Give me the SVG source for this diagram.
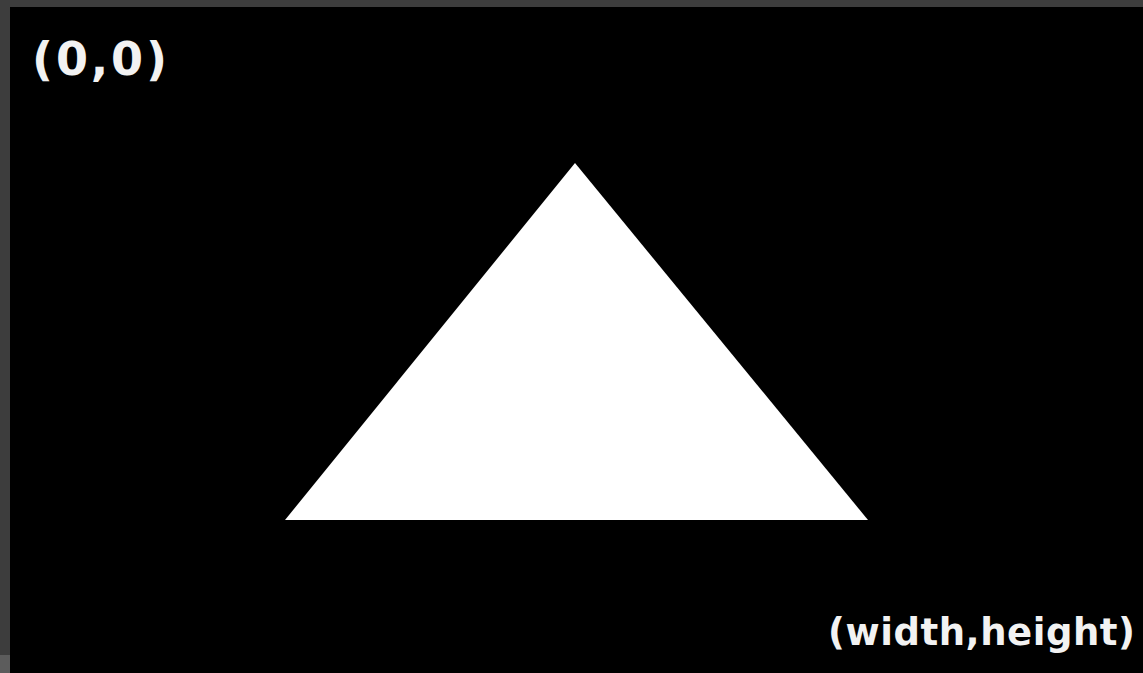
<svg xmlns="http://www.w3.org/2000/svg" width="1143" height="673" viewBox="0 0 1143 673">
<style>
.lbl{fill:#f2f2f2;font-family:"DejaVu Sans",Verdana,sans-serif;font-weight:bold}
</style>
<rect x="0" y="0" width="1143" height="673" fill="#3d3d3d"/>
<rect x="0" y="655" width="10" height="18" fill="#5c5c5c"/>
<rect x="10" y="7" width="1133" height="666" fill="#000"/>
<g id="triangle">
<polygon points="575,163 868,520 285,520" fill="#fff"/>
</g>
<g id="origin">
<text class="lbl" x="32" y="75" font-size="46" textLength="135" lengthAdjust="spacing">(0,0)</text>
</g>
<g id="corner">
<text class="lbl" x="828" y="645" font-size="37" textLength="307" lengthAdjust="spacing">(width,height)</text>
</g>
<g id="connectors"/>
</svg>
